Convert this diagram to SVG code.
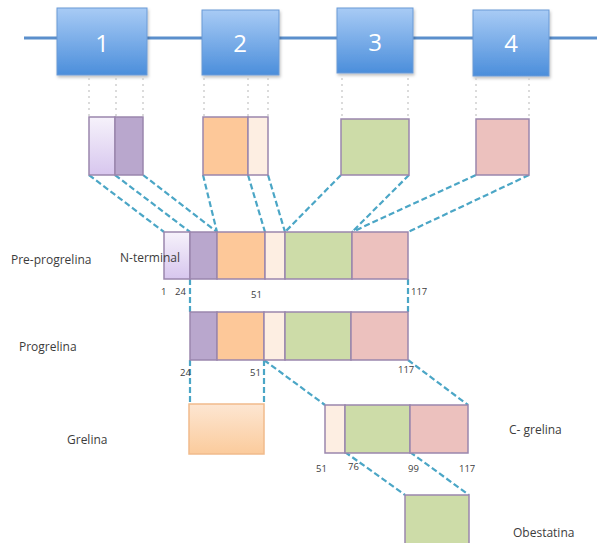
<svg xmlns="http://www.w3.org/2000/svg" width="597" height="543" viewBox="0 0 597 543">
<defs>
<linearGradient id="gBlue" x1="0" y1="0" x2="0" y2="1"><stop offset="0" stop-color="#a8cbf5"/><stop offset="1" stop-color="#4b8edb"/></linearGradient>
<linearGradient id="gLav" x1="0" y1="0" x2="0" y2="1"><stop offset="0" stop-color="#f6f2fb"/><stop offset="1" stop-color="#d7c6ee"/></linearGradient>
<linearGradient id="gOr" x1="0" y1="0" x2="0" y2="1"><stop offset="0" stop-color="#fde6d2"/><stop offset="1" stop-color="#fbcb9c"/></linearGradient>
<filter id="sh" x="-10%" y="-10%" width="130%" height="130%"><feDropShadow dx="1" dy="2" stdDeviation="1.5" flood-color="#000" flood-opacity="0.25"/></filter>
</defs>
<style>
.exon{fill:url(#gBlue);stroke:#6a9ad6;stroke-width:1;filter:url(#sh)}
.num{font-family:"Open Sans","Liberation Sans",sans-serif;font-size:24px;fill:#ffffff;text-anchor:middle}
.seg{stroke:#9a86ad;stroke-width:1.5}
.lav{fill:url(#gLav)}
.pur{fill:#b9a7cd}
.ora{fill:#fdc899}
.pal{fill:#fdeee2}
.gre{fill:#cddca8}
.pin{fill:#ecc1be}
.dot{stroke:#d0d0d0;stroke-width:1.5;stroke-dasharray:2 4;fill:none}
.dash{stroke:#4ba6c6;stroke-width:2.2;stroke-dasharray:6 3;fill:none}
.lbl{font-family:"Open Sans","Liberation Sans",sans-serif;font-size:12px;fill:#3c3c3c}
.pos{font-family:"Open Sans","Liberation Sans",sans-serif;font-size:9.5px;fill:#3c3c3c}
</style>
<rect width="597" height="543" fill="#ffffff"/>

<g id="gene">
<line x1="24" y1="38" x2="597" y2="38" stroke="#5b8fcc" stroke-width="3"/>
<g id="exon1"><rect class="exon" x="57" y="8" width="90" height="67"/><text class="num" x="102" y="52">1</text></g>
<g id="exon2"><rect class="exon" x="202" y="10" width="77" height="65"/><text class="num" x="240" y="52">2</text></g>
<g id="exon3"><rect class="exon" x="337" y="8" width="76" height="65"/><text class="num" x="375" y="51">3</text></g>
<g id="exon4"><rect class="exon" x="473" y="10" width="76" height="66"/><text class="num" x="511" y="52">4</text></g>
</g>

<g id="connectors">
<path class="dot" d="M89 78V117M116 78V117M143 78V117M204 78V117M248 78V117M268 78V117M342 78V119M408 78V119M476 78V119M529 78V119"/>
<path class="dash" d="M89 175L164 232M115 175L190 232M143 175L217 232M203 175L217 232M248 175L265 232M268 175L285 232M341 175L285 232M409 175L352 232M476 175L352 232M529 175L408 232"/>
<path class="dash" d="M190 279V312M408 279V312M190 360V404M264 360V404M264 360L325 405M408 360L468 405M345 452L405 495M410 452L469 495"/>
</g>

<g id="exon-segments">
<g id="ex1"><rect class="seg lav" x="89" y="117" width="26" height="58"/><rect class="seg pur" x="115" y="117" width="28" height="58"/></g>
<g id="ex2"><rect class="seg ora" x="203" y="117" width="45" height="58"/><rect class="seg pal" x="248" y="117" width="20" height="58"/></g>
<g id="ex3"><rect class="seg gre" x="341" y="119" width="68" height="56"/></g>
<g id="ex4"><rect class="seg pin" x="476" y="119" width="53" height="56"/></g>
</g>

<g id="pre-progrelina">
<rect class="seg lav" x="164" y="232" width="26" height="47"/>
<rect class="seg pur" x="190" y="232" width="27" height="47"/>
<rect class="seg ora" x="217" y="232" width="48" height="47"/>
<rect class="seg pal" x="265" y="232" width="20" height="47"/>
<rect class="seg gre" x="285" y="232" width="67" height="47"/>
<rect class="seg pin" x="352" y="232" width="56" height="47"/>
<text class="lbl" x="11" y="264">Pre-progrelina</text>
<text class="lbl" x="120" y="262">N-terminal</text>
<text class="pos" x="161" y="295">1</text>
<text class="pos" x="175" y="295">24</text>
<text class="pos" x="251" y="298">51</text>
<text class="pos" x="411" y="295">117</text>
</g>

<g id="progrelina">
<rect class="seg pur" x="190" y="312" width="27" height="48"/>
<rect class="seg ora" x="217" y="312" width="47" height="48"/>
<rect class="seg pal" x="264" y="312" width="21" height="48"/>
<rect class="seg gre" x="285" y="312" width="66" height="48"/>
<rect class="seg pin" x="351" y="312" width="57" height="48"/>
<text class="lbl" x="19" y="351">Progrelina</text>
<text class="pos" x="180" y="376">24</text>
<text class="pos" x="250" y="376">51</text>
<text class="pos" x="398" y="373">117</text>
</g>

<g id="grelina">
<rect x="189" y="404" width="75" height="50" fill="url(#gOr)" stroke="#f1bb8c" stroke-width="1.5"/>
<text class="lbl" x="67" y="444">Grelina</text>
</g>

<g id="c-grelina">
<rect class="seg pal" x="325" y="405" width="20" height="48"/>
<rect class="seg gre" x="345" y="405" width="65" height="48"/>
<rect class="seg pin" x="410" y="405" width="58" height="48"/>
<text class="lbl" x="509" y="434">C- grelina</text>
<text class="pos" x="316" y="472">51</text>
<text class="pos" x="348" y="470">76</text>
<text class="pos" x="408" y="472">99</text>
<text class="pos" x="459" y="472">117</text>
</g>

<g id="obestatina">
<rect class="seg gre" x="405" y="495" width="64" height="50"/>
<text class="lbl" x="513" y="537">Obestatina</text>
</g>
</svg>
